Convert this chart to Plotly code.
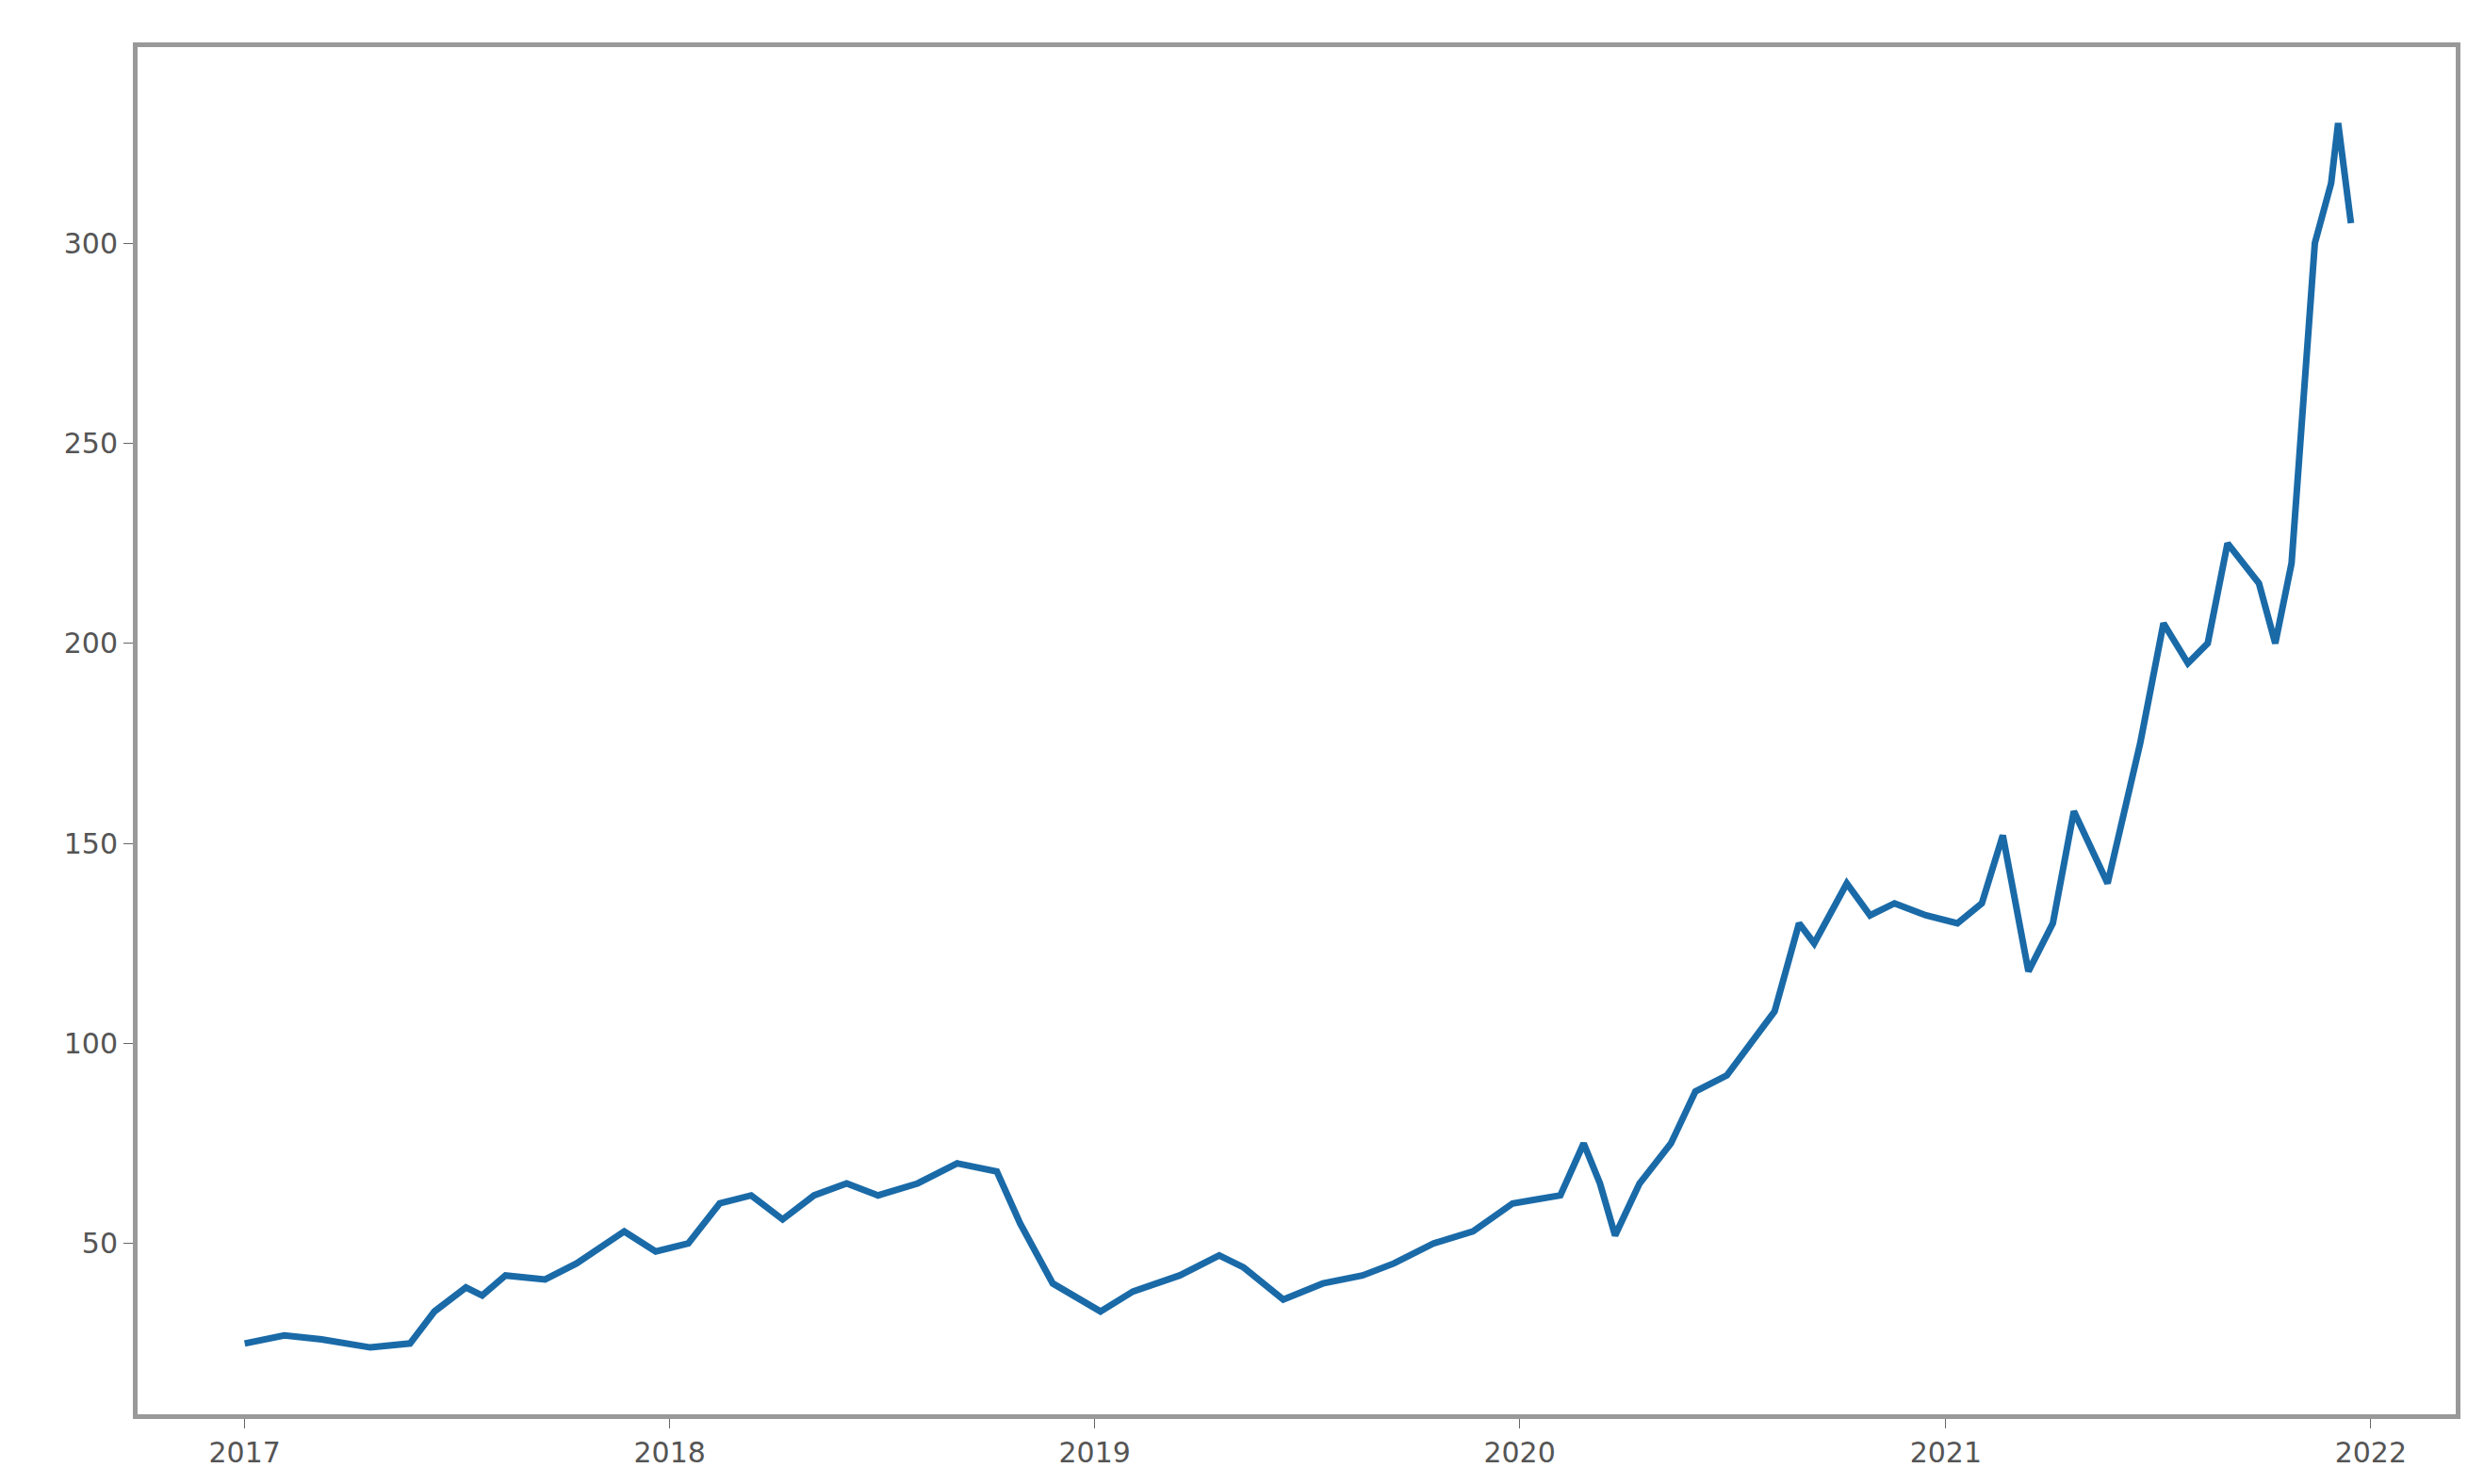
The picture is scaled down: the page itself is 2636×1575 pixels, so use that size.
import plotly.graph_objects as go

# price series
dates = ['2017-01-01', '2017-02-04', '2017-03-08', '2017-04-19', '2017-05-23', '2017-06-13',
         '2017-07-10', '2017-07-24', '2017-08-13', '2017-09-16', '2017-10-13', '2017-11-23',
         '2017-12-20', '2018-01-17', '2018-02-13', '2018-03-12', '2018-04-08', '2018-05-05',
         '2018-06-02', '2018-06-29', '2018-08-02', '2018-09-05', '2018-10-09', '2018-10-29',
         '2018-11-26', '2019-01-06', '2019-02-03', '2019-03-15', '2019-04-18', '2019-05-09',
         '2019-06-12', '2019-07-16', '2019-08-19', '2019-09-15', '2019-10-19', '2019-11-22',
         '2019-12-26', '2020-02-05', '2020-02-25', '2020-03-10', '2020-03-23', '2020-04-13',
         '2020-05-10', '2020-05-31', '2020-06-27', '2020-07-18', '2020-08-07', '2020-08-28',
         '2020-09-10', '2020-10-08', '2020-10-28', '2020-11-18', '2020-12-15', '2021-01-11',
         '2021-02-01', '2021-02-19', '2021-03-13', '2021-04-03', '2021-04-21', '2021-05-20',
         '2021-06-17', '2021-07-07', '2021-07-28', '2021-08-14', '2021-08-31', '2021-09-27',
         '2021-10-11', '2021-10-25', '2021-11-14', '2021-11-28', '2021-12-04', '2021-12-15']
prices = [25, 27, 26, 24, 25, 33,
          39, 37, 42, 41, 45, 53,
          48, 50, 60, 62, 56, 62,
          65, 62, 65, 70, 68, 55,
          40, 33, 38, 42, 47, 44,
          36, 40, 42, 45, 50, 53,
          60, 62, 75, 65, 52, 65,
          75, 88, 92, 100, 108, 130,
          125, 140, 132, 135, 132, 130,
          135, 152, 118, 130, 158, 140,
          175, 205, 195, 200, 225, 215,
          200, 220, 300, 315, 330, 305]

y_ticks = [50, 100, 150, 200, 250, 300]
x_ticks = ['2017-01-01', '2018-01-01', '2019-01-01', '2020-01-01', '2021-01-01', '2022-01-01']
x_labels = ['2017', '2018', '2019', '2020', '2021', '2022']

fig = go.Figure()
fig.add_trace(go.Scatter(x=dates, y=prices, mode='lines',
                         line=dict(color='#1a6aa8', width=7)))

fig.update_layout(
    width=2636, height=1575,
    margin=dict(l=138, r=38, t=42, b=82),
    paper_bgcolor='white', plot_bgcolor='white',
    showlegend=False,
    font=dict(family='DejaVu Sans', size=30, color='#555555'),
    xaxis=dict(range=['2016-10-01', '2022-03-15'], tickvals=x_ticks, ticktext=x_labels,
               showgrid=False, zeroline=False, ticks='outside', ticklen=10,
               tickcolor='#666666', showline=True, linecolor='#999999', linewidth=5,
               mirror=True),
    yaxis=dict(range=[7.3, 349], tickvals=y_ticks, showgrid=False, zeroline=False,
               ticks='outside', ticklen=10, tickcolor='#666666', showline=True,
               linecolor='#999999', linewidth=5, mirror=True),
)

fig.write_html("out.html")
